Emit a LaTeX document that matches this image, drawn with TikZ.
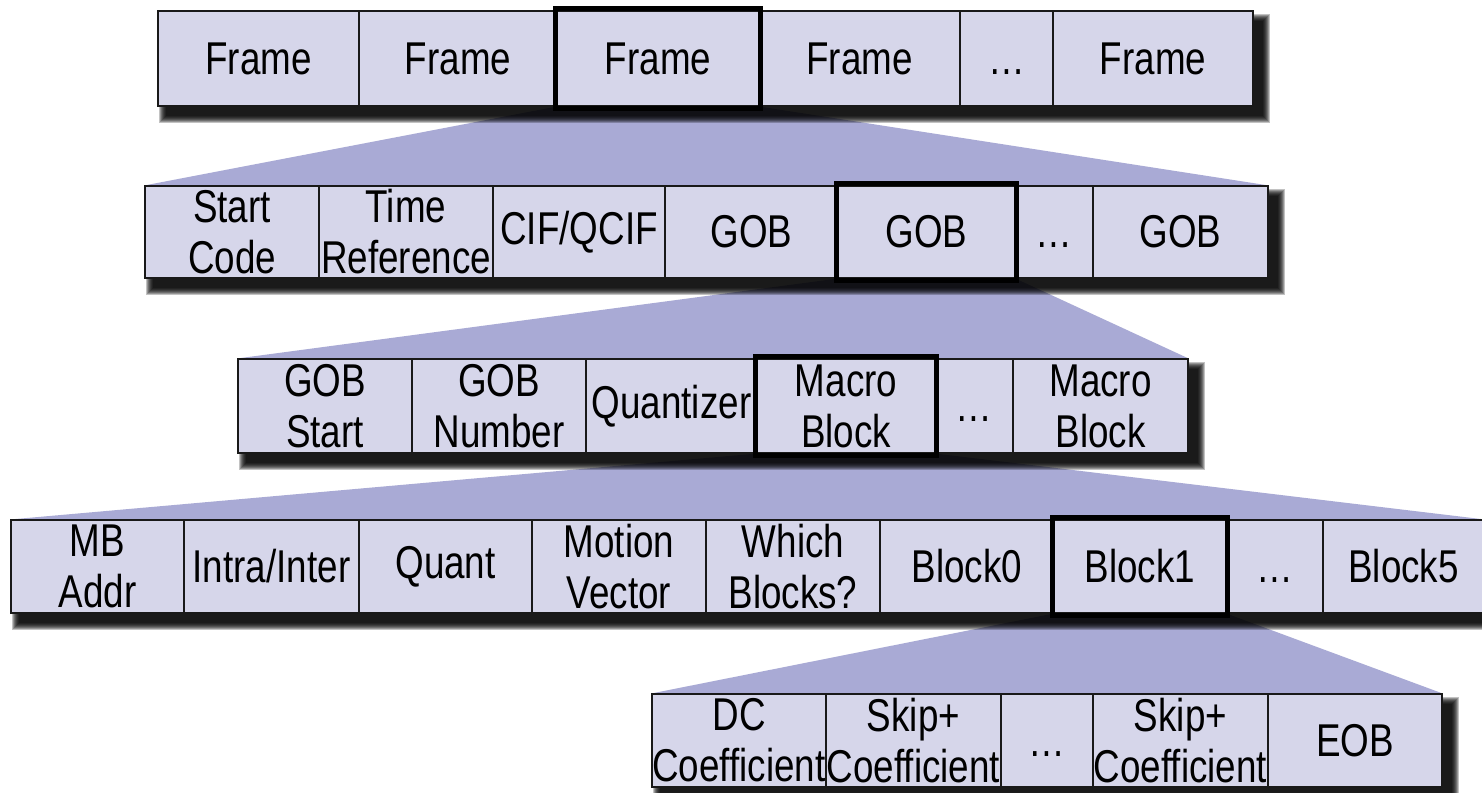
\documentclass[tikz,border=0pt]{standalone}
\usepackage{fontspec}
\setmainfont{Liberation Sans}[FakeStretch=0.8]
\definecolor{cellfill}{RGB}{214,214,234}
\definecolor{funnelfill}{RGB}{169,170,213}
\definecolor{edgecol}{RGB}{25,25,25}
\pgfdeclarelayer{bg}
\pgfdeclarelayer{shade}
\pgfsetlayers{bg,shade,main}
\tikzset{
  cell/.style={draw=edgecol, line width=0.55pt, fill=cellfill, inner sep=0pt,
    align=center, font=\fontsize{23}{25.5}\selectfont, text=black},
  selbox/.style={draw=black, line width=2.6pt},
  funnel/.style={fill=funnelfill},
  shadowlayer/.style={fill=black, opacity=0.24},
}
\newcommand\mkcell[6]{\node[cell, minimum width={(#3-#2)*0.5pt}, minimum height={(#5-#4)*0.5pt}] (#1) at ({(#2+#3)/2},{(#4+#5)/2}) {#6};}
\newcommand\dotsym{\vphantom{F}…}
\newcommand\rowshadow[2]{\foreach \e in {7,6,...,0}{\fill[shadowlayer] ([shift={({9-\e},{11-\e})}]#1.north west) rectangle ([shift={({9+\e},{9+\e})}]#2.south east);}}
\newcommand\selframe[1]{\draw[selbox] ([shift={(-1,-2)}]#1.north west) rectangle ([shift={(1,2)}]#1.south east);}
\begin{document}
\begin{tikzpicture}[x=0.5pt, y=-0.5pt]
\begin{pgfonlayer}{bg}
\fill[white] (0,0) rectangle (1482,792);
\end{pgfonlayer}
\useasboundingbox (0,0) rectangle (1482,792);
% Row 1
\mkcell{r1a}{158}{359}{11}{106}{Frame}
\mkcell{r1b}{359}{557}{11}{106}{Frame}
\mkcell{r1c}{557}{759}{11}{106}{Frame}
\mkcell{r1d}{759}{960}{11}{106}{Frame}
\mkcell{r1e}{960}{1053}{11}{106}{\dotsym}
\mkcell{r1f}{1053}{1253}{11}{106}{Frame}
% Row 2
\mkcell{r2a}{145}{319}{186}{278}{Start\\Code}
\mkcell{r2b}{319}{493}{186}{278}{Time\\Reference}
\mkcell{r2c}{493}{665}{186}{278}{CIF/QCIF}
\mkcell{r2d}{665}{838}{186}{278}{GOB}
\mkcell{r2e}{838}{1015}{186}{278}{GOB}
\mkcell{r2f}{1015}{1093}{186}{278}{\dotsym}
\mkcell{r2g}{1093}{1268}{186}{278}{GOB}
% Row 3
\mkcell{r3a}{238}{412}{359}{453}{GOB\\Start}
\mkcell{r3b}{412}{586}{359}{453}{GOB\\Number}
\mkcell{r3c}{586}{757}{359}{453}{Quantizer}
\mkcell{r3d}{757}{935}{359}{453}{Macro\\Block}
\mkcell{r3e}{935}{1013}{359}{453}{\dotsym}
\mkcell{r3f}{1013}{1188}{359}{453}{Macro\\Block}
% Row 4
\mkcell{r4a}{11}{184}{520}{613}{MB\\Addr}
\mkcell{r4b}{184}{359}{520}{613}{Intra/Inter}
\mkcell{r4c}{359}{532}{520}{613}{Quant}
\mkcell{r4d}{532}{706}{520}{613}{Motion\\Vector}
\mkcell{r4e}{706}{880}{520}{613}{Which\\Blocks?}
\mkcell{r4f}{880}{1054}{520}{613}{Block0}
\mkcell{r4g}{1054}{1226}{520}{613}{Block1}
\mkcell{r4h}{1226}{1323}{520}{613}{\dotsym}
\mkcell{r4i}{1323}{1484}{520}{613}{Block5}
% Row 5
\mkcell{r5a}{652}{826}{694}{787}{DC\\Coefficient}
\mkcell{r5b}{826}{1001}{694}{787}{Skip+\\Coefficient}
\mkcell{r5c}{1001}{1093}{694}{787}{\dotsym}
\mkcell{r5d}{1093}{1268}{694}{787}{Skip+\\Coefficient}
\mkcell{r5e}{1268}{1442}{694}{787}{EOB}
% selected boxes
\selframe{r1c}
\selframe{r2e}
\selframe{r3d}
\selframe{r4g}
% funnels
\begin{pgfonlayer}{bg}
\fill[funnel] (r1c.south west) -- (r1c.south east) -- (r2g.north east) -- (r2a.north west) -- cycle;
\fill[funnel] (r2e.south west) -- (r2e.south east) -- (r3f.north east) -- (r3a.north west) -- cycle;
\fill[funnel] (r3d.south west) -- (r3d.south east) -- (r4i.north east) -- (r4a.north west) -- cycle;
\fill[funnel] (r4g.south west) -- (r4g.south east) -- (r5e.north east) -- (r5a.north west) -- cycle;
\end{pgfonlayer}
% shadows
\begin{pgfonlayer}{shade}
\rowshadow{r1a}{r1f}
\rowshadow{r2a}{r2g}
\rowshadow{r3a}{r3f}
\rowshadow{r4a}{r4i}
\rowshadow{r5a}{r5e}
\end{pgfonlayer}
\end{tikzpicture}
\end{document}
